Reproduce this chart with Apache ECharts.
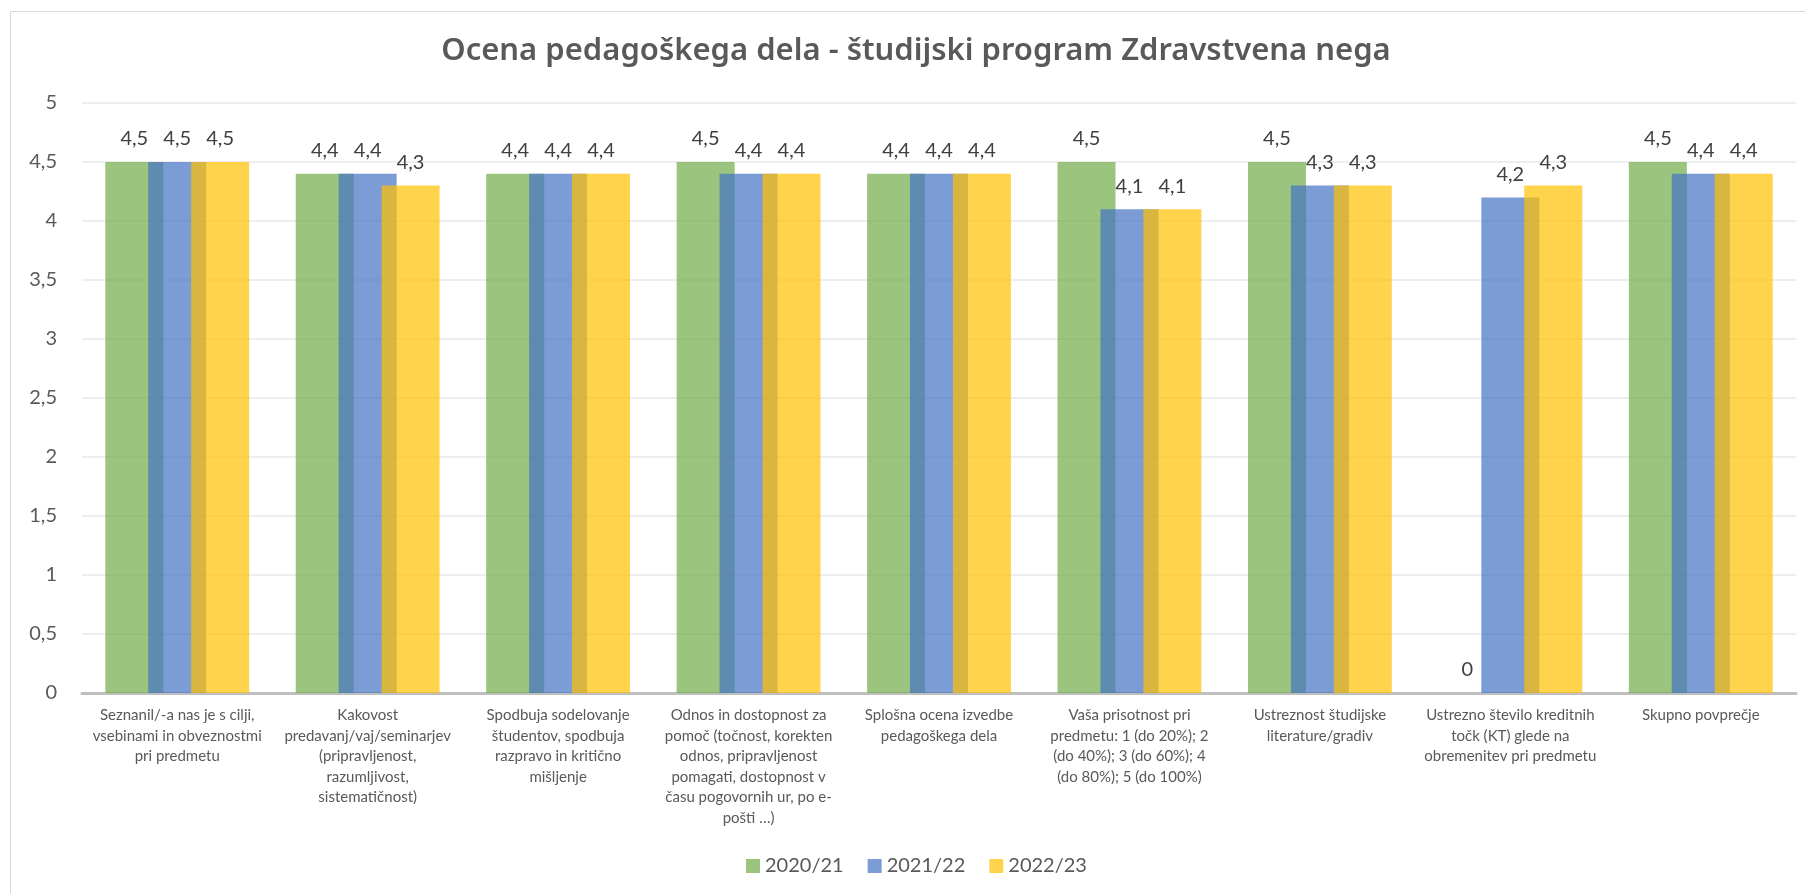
<!DOCTYPE html>
<html>
<head>
<meta charset="utf-8">
<script src="https://cdn.jsdelivr.net/npm/echarts@6/dist/echarts.min.js"></script>
<style>
  html, body { margin: 0; padding: 0; background: #fff; }
  #chart { width: 1805px; height: 894px; }
</style>
</head>
<body>
<div id="chart"></div>
<script>
const categories = [
  'Seznanil/-a nas je s cilji,\nvsebinami in obveznostmi\npri predmetu',
  'Kakovost\npredavanj/vaj/seminarjev\n(pripravljenost,\nrazumljivost,\nsistematičnost)',
  'Spodbuja sodelovanje\nštudentov, spodbuja\nrazpravo in kritično\nmišljenje',
  'Odnos in dostopnost za\npomoč (točnost, korekten\nodnos, pripravljenost\npomagati, dostopnost v\nčasu pogovornih ur, po e-\npošti …)',
  'Splošna ocena izvedbe\npedagoškega dela',
  'Vaša prisotnost pri\npredmetu: 1 (do 20%); 2\n(do 40%); 3 (do 60%); 4\n(do 80%); 5 (do 100%)',
  'Ustreznost študijske\nliterature/gradiv',
  'Ustrezno število kreditnih\ntočk (KT) glede na\nobremenitev pri predmetu',
  'Skupno povprečje'
]
const seriesNames = ['2020/21', '2021/22', '2022/23']
const values2020 = [4.5, 4.4, 4.4, 4.5, 4.4, 4.5, 4.5, 0, 4.5]
const values2021 = [4.5, 4.4, 4.4, 4.4, 4.4, 4.1, 4.3, 4.2, 4.4]
const values2022 = [4.5, 4.3, 4.4, 4.4, 4.4, 4.1, 4.3, 4.3, 4.4]

const chart = echarts.init(document.getElementById('chart'))
const colors = ['rgba(112,173,71,0.7)', 'rgba(68,114,196,0.7)', 'rgba(255,192,0,0.7)']
const comma = v => String(v).replace('.', ',')

const makeSeries = (name, data) => ({
  name: name,
  type: 'bar',
  barWidth: 58,
  barGap: '-26%',
  label: {
    show: true,
    position: 'top',
    distance: 13,
    color: '#404040',
    fontSize: 20,
    fontFamily: 'Lato',
    formatter: p => comma(p.value)
  },
  data: data
})

const option = {
  color: colors,
  textStyle: { fontFamily: 'Lato' },
  graphic: [
    {
      type: 'rect',
      shape: { x: 10.5, y: 11.5, width: 1810, height: 900 },
      style: { fill: 'none', stroke: '#d9d9d9', lineWidth: 1 },
      silent: true
    }
  ],
  title: {
    text: 'Ocena pedagoškega dela - študijski program Zdravstvena nega',
    left: 911,
    top: 31,
    textAlign: 'center',
    textStyle: {
      color: '#595959',
      fontFamily: 'Noto Sans',
      fontWeight: 600,
      fontSize: 31
    }
  },
  legend: {
    data: seriesNames,
    left: 741,
    top: 851,
    icon: 'rect',
    itemWidth: 14,
    itemHeight: 14,
    itemGap: 24,
    textStyle: { color: '#595959', fontSize: 20, fontFamily: 'Lato' }
  },
  grid: {
    left: 82,
    right: 9,
    top: 103,
    bottom: 201,
    containLabel: false
  },
  xAxis: {
    type: 'category',
    data: categories,
    axisLine: { lineStyle: { color: '#bfbfbf', width: 3 } },
    axisTick: { show: false },
    axisLabel: {
      interval: 0,
      margin: 12,
      color: '#595959',
      fontSize: 15,
      lineHeight: 20.5,
      fontFamily: 'Lato'
    }
  },
  yAxis: {
    type: 'value',
    min: 0,
    max: 5,
    interval: 0.5,
    axisLine: { show: false },
    axisTick: { show: false },
    splitLine: { lineStyle: { color: '#eeeeee', width: 2 } },
    axisLabel: {
      margin: 25,
      color: '#595959',
      fontSize: 20,
      fontFamily: 'Lato',
      formatter: comma
    }
  },
  series: [
    makeSeries(seriesNames[0], values2020),
    makeSeries(seriesNames[1], values2021),
    makeSeries(seriesNames[2], values2022)
  ]
}
chart.setOption(option)
</script>
</body>
</html>
